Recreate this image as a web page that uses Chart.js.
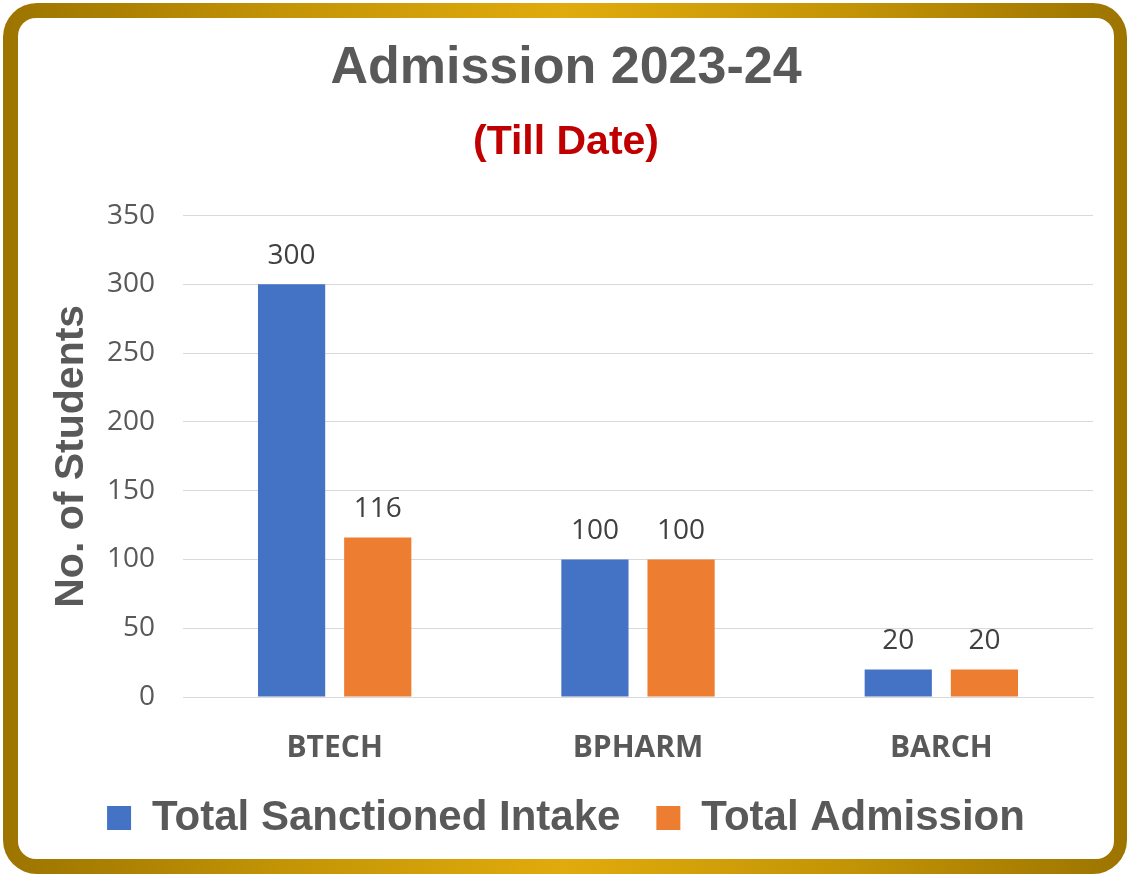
<!DOCTYPE html>
<html lang="en">
<head>
<meta charset="UTF-8">
<title>Admission 2023-24</title>
<style>
  html, body { margin: 0; padding: 0; background: #ffffff; }
  #frame {
    position: absolute; left: 3px; top: 3px; width: 1124px; height: 871px;
    border-radius: 34px; box-sizing: border-box;
    background: linear-gradient(90deg, #9c7400 0%, #c39406 25%, #e0ab0c 50%, #c39406 75%, #9c7400 100%);
  }
  #inner {
    position: absolute; left: 15px; top: 15px; width: 1096px; height: 841px;
    background: #ffffff; border-radius: 18px; overflow: hidden;
  }
  canvas { display: block; }
</style>
</head>
<body>
<div id="frame">
  <div id="inner">
    <canvas id="admChart" width="1096" height="841"></canvas>
  </div>
</div>

<script src="https://cdn.jsdelivr.net/npm/chart.js"></script>
<script>
const courses = ['BTECH', 'BPHARM', 'BARCH'];
const sanctioned = [300, 100, 20];
const admitted = [116, 100, 20];
const yTicks = [0, 50, 100, 150, 200, 250, 300, 350];

// value labels drawn above each bar
const barValues = {
  id: 'barValues',
  afterDatasetsDraw(chart) {
    const ctx = chart.ctx;
    ctx.save();
    ctx.font = '28px "Open Sans"';
    ctx.fillStyle = '#404040';
    ctx.textAlign = 'center';
    ctx.textBaseline = 'alphabetic';
    chart.data.datasets.forEach((ds, i) => {
      chart.getDatasetMeta(i).data.forEach((bar, j) => {
        ctx.fillText(ds.data[j], bar.x, bar.y - 20);
      });
    });
    ctx.restore();
  }
};

new Chart(document.getElementById('admChart'), {
  type: 'bar',
  data: {
    labels: courses,
    datasets: [
      { label: 'Total Sanctioned Intake', data: sanctioned, backgroundColor: '#4472C4', borderWidth: 0 },
      { label: 'Total Admission', data: admitted, backgroundColor: '#ED7D31', borderWidth: 0 }
    ]
  },
  options: {
    responsive: false,
    animation: false,
    categoryPercentage: 0.568,
    barPercentage: 0.78,
    layout: { padding: { left: 21, right: 21, top: 0, bottom: 10 } },
    plugins: {
      title: {
        display: true,
        text: 'Admission 2023-24',
        color: '#595959',
        font: { family: '"Liberation Sans", Arial', size: 52, weight: 'bold' },
        padding: { top: 19, bottom: 19 }
      },
      subtitle: {
        display: true,
        text: '(Till Date)',
        color: '#C00000',
        font: { family: '"Liberation Sans", Arial', size: 41, weight: 'bold' },
        padding: { top: 0, bottom: 48 }
      },
      legend: {
        position: 'bottom',
        labels: {
          color: '#595959',
          boxWidth: 24,
          boxHeight: 24,
          padding: 36,
          font: { family: '"Liberation Sans", Arial', size: 42, weight: 'bold' }
        }
      },
      tooltip: { enabled: false }
    },
    scales: {
      x: {
        afterFit(scale) { scale.height = 64; },
        grid: { display: false },
        border: { display: true, color: '#D9D9D9', width: 1 },
        ticks: {
          color: '#595959',
          padding: 25,
          font: { family: '"Open Sans"', size: 30, weight: 'bold' }
        }
      },
      y: {
        min: 0,
        max: 350,
        afterFit(scale) { scale.width = 144; },
        afterBuildTicks(scale) { scale.ticks = yTicks.map(v => ({ value: v })); },
        grid: { color: '#D9D9D9', lineWidth: 1, drawTicks: false },
        border: { display: false },
        ticks: {
          color: '#595959',
          padding: 28,
          font: { family: '"Open Sans"', size: 28 }
        },
        title: {
          display: true,
          text: 'No. of Students',
          color: '#595959',
          padding: { top: 8, bottom: 0 },
          font: { family: '"Liberation Sans", Arial', size: 41, weight: 'bold' }
        }
      }
    }
  },
  plugins: [barValues]
});
</script>
</body>
</html>
